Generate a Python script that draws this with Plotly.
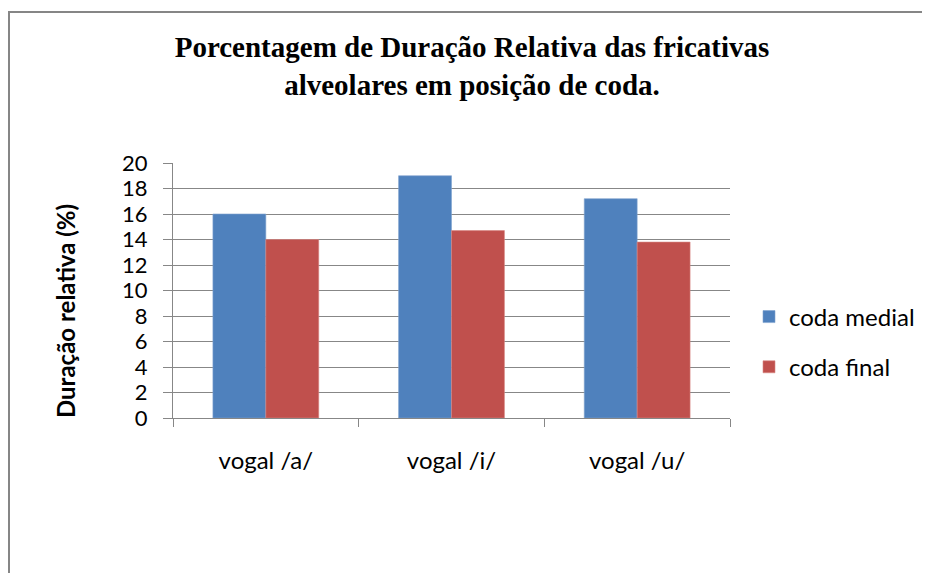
import plotly.graph_objects as go

categories = ["vogal /a/", "vogal /i/", "vogal /u/"]
coda_medial = [16.0, 19.0, 17.2]
coda_final = [14.0, 14.7, 13.8]
y_ticks = list(range(0, 21, 2))

# page offset: the html body adds an 8px margin
OFF = 8
W, H = 930, 573
L, T = 173 - OFF, 163 - OFF
R = W - (730 - OFF)
B = H - (418 - OFF)
pw, ph = W - L - R, H - T - B

def px_x(x):
    return (x - OFF - L) / pw

def px_y(y):
    return (H - B - (y - OFF)) / ph

sans = "Lato, 'Open Sans', sans-serif"
grid = "#878787"

fig = go.Figure()
fig.add_trace(go.Bar(x=categories, y=coda_medial, name="coda medial", legendgroup="a",
                     marker=dict(color="#4F81BD", line=dict(color="#7fa2cf", width=0.6))))
fig.add_trace(go.Bar(x=categories, y=coda_final, name="coda final", legendgroup="b",
                     marker=dict(color="#C0504D", line=dict(color="#d68683", width=0.6))))

fig.update_layout(
    width=W, height=H,
    margin=dict(l=L, r=R, t=T, b=B),
    paper_bgcolor="white", plot_bgcolor="white",
    barmode="group", bargap=0.43, bargroupgap=0,
    font=dict(family=sans, size=22, color="black"),
    title=dict(text="Porcentagem de Duração Relativa das fricativas<br>alveolares em posição de coda.",
               x=(472 - OFF) / W, xanchor="center", y=1 - (57 - OFF) / H, yanchor="middle",
               yref="container",
               font=dict(family="'Liberation Serif', 'Times New Roman', serif", size=29, color="black",
                         weight="bold")),
    legend=dict(x=px_x(749), xanchor="left", y=px_y(342), yanchor="middle",
                font=dict(family=sans, size=24), tracegroupgap=16, traceorder="grouped",
                bgcolor="rgba(0,0,0,0)"),
    showlegend=True,
)
fig.update_xaxes(showline=True, linecolor=grid, linewidth=1, ticks="outside", ticklen=8,
                 tickcolor=grid, tickson="boundaries", showgrid=False,
                 ticklabelstandoff=21, tickfont=dict(family=sans, size=24))
fig.update_yaxes(range=[0, 20], tickvals=y_ticks, showline=True, linecolor=grid, linewidth=1,
                 ticks="outside", ticklen=9, tickcolor=grid, showgrid=True, gridcolor=grid,
                 gridwidth=1, zeroline=False, ticklabelstandoff=11,
                 tickfont=dict(family=sans, size=22))

fig.add_annotation(text="<b>Duração relativa (%)</b>", textangle=-90, xref="paper", yref="paper",
                   x=px_x(65), y=px_y(311), xanchor="center", yanchor="middle", showarrow=False,
                   font=dict(family=sans, size=24, color="black"))

fig.add_shape(type="rect", xref="paper", yref="paper",
              x0=px_x(9), x1=px_x(W + 30), y0=px_y(H + 30), y1=px_y(12),
              line=dict(color="#868686", width=2), fillcolor="rgba(0,0,0,0)", layer="below")

fig.write_html("out.html")
